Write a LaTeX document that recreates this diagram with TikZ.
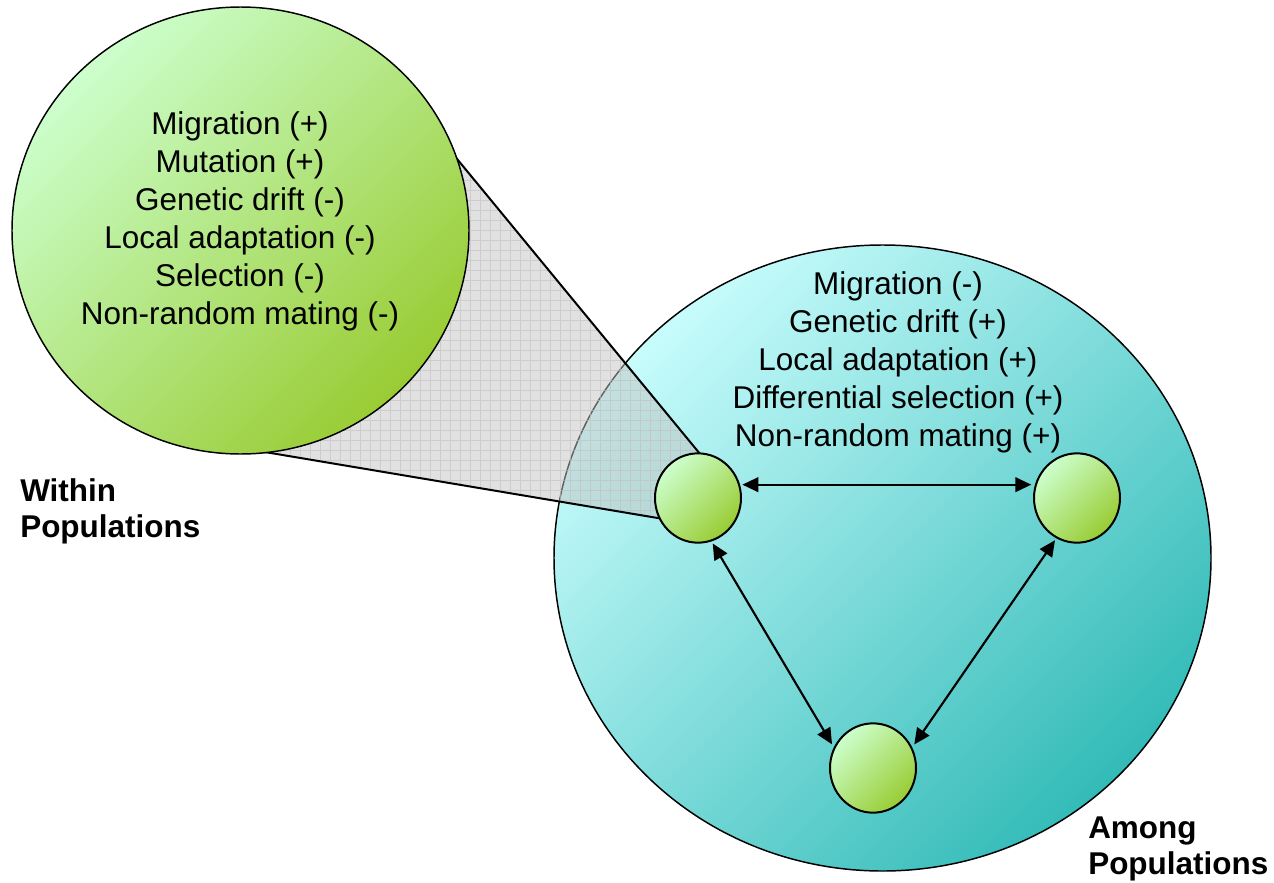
\documentclass[tikz,border=0pt]{standalone}
\usepackage{fontspec}
\setmainfont{Liberation Sans}
\usetikzlibrary{arrows.meta,shapes.geometric}
\pgfdeclarelayer{bg}
\pgfdeclarelayer{cone}
\pgfsetlayers{bg,cone,main}
\definecolor{gL}{HTML}{CCFFCC}
\definecolor{gD}{HTML}{99CC33}
\definecolor{tL}{HTML}{C8FCFC}
\definecolor{tD}{HTML}{33BBB8}
\begin{document}
\begin{tikzpicture}[x=0.75pt,y=-0.75pt,
 bigtxt/.style={font=\fontsize{23.6}{28.5}\selectfont, align=center, inner sep=0},
 lbl/.style={font=\fontsize{23.6}{27}\selectfont\bfseries, align=left, inner sep=0, anchor=west},
 greenball/.style={ellipse, draw, line width=1.1pt, top color=gL, bottom color=gD, shading angle=45, inner sep=0, outer sep=0},
 tealball/.style={ellipse, draw, line width=1.1pt, top color=tL, bottom color=tD, shading angle=45, inner sep=0, outer sep=0},
 pop/.style={greenball, line width=1.5pt, minimum width=64.5pt, minimum height=67pt},
 link/.style={line width=1.6pt, {Triangle[length=12pt,width=11pt]}-{Triangle[length=12pt,width=11pt]}, shorten <=2.5pt, shorten >=3.5pt},
 conel/.style={line width=1.5pt}]
\useasboundingbox (0,0) rectangle (1274,882);
\begin{pgfonlayer}{bg}
\node[tealball, minimum width=492.75pt, minimum height=469.5pt] (among) at (882.5,558) {};
\end{pgfonlayer}
\node[greenball, minimum width=342.75pt, minimum height=335.25pt] (within) at (240.5,230.5) {};
\node[pop] (p1) at (698,498) {};
\node[pop] (p2) at (1077,498) {};
\node[pop] (p3) at (873,768) {};
\coordinate (ca) at (385.5,72.1);
\coordinate (cd) at (225.5,445.4);
\begin{pgfonlayer}{cone}
\begin{scope}
\clip (ca) -- (p1.88) -- (p1.208) -- (cd) -- cycle;
\fill[black!23, fill opacity=0.5] (0,882) rectangle (1274,0);
\draw[black!25, line width=0.5pt, opacity=0.6] (0,882) grid[step=7.5pt] (1274,0);
\end{scope}
\draw[conel] (ca) -- (p1.88);
\draw[conel] (cd) -- (p1.208);
\end{pgfonlayer}
\node[bigtxt] (wl) at (240,221) {Migration (+)\\Mutation (+)\\Genetic drift (-)\\Local adaptation (-)\\Selection (-)\\Non-random mating (-)};
\node[bigtxt] (al) at (898,362) {Migration (-)\\Genetic drift (+)\\Local adaptation (+)\\Differential selection (+)\\Non-random mating (+)};
\node[lbl] (wt) at (20,511) {Within\\Populations};
\node[lbl] (at) at (1088,849) {Among\\Populations};
\draw[link] (p1.18) -- (p2.162);
\draw[link] (p1.287) -- (p3.153);
\draw[link] (p2.243) -- (p3.27);
\end{tikzpicture}
\end{document}
